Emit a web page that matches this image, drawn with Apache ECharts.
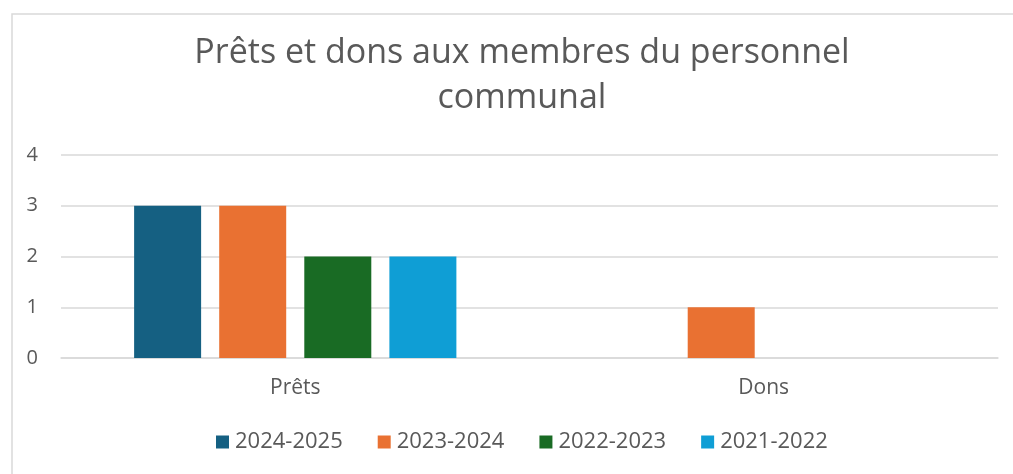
<!DOCTYPE html>
<html>
<head>
<meta charset="utf-8">
<script src="https://cdn.jsdelivr.net/npm/echarts@6/dist/echarts.min.js"></script>
<style>
  html, body { margin: 0; padding: 0; background: #fff; }
  #chart { width: 1013px; height: 474px; }
</style>
</head>
<body>
<div id="chart"></div>
<script>
// Prêts et dons aux membres du personnel communal
const categories = ['Prêts', 'Dons'];
const seriesNames = ['2024-2025', '2023-2024', '2022-2023', '2021-2022'];
const values2024_2025 = [3, 0];
const values2023_2024 = [3, 1];
const values2022_2023 = [2, 0];
const values2021_2022 = [2, 0];
const yTicks = [0, 1, 2, 3, 4];

const seriesValues = [values2024_2025, values2023_2024, values2022_2023, values2021_2022];
const colors = ['#156082', '#E97132', '#196B24', '#0F9ED5'];
const textColor = '#595959';
const fontFamily = '"Open Sans", Roboto, sans-serif';

const chart = echarts.init(document.getElementById('chart'), null, { renderer: 'canvas' });

chart.setOption({
  animation: false,
  color: colors,
  textStyle: { fontFamily: fontFamily },
  graphic: [{
    type: 'rect',
    left: 9.5, top: 11.5,
    shape: { width: 1200, height: 700 },
    style: { fill: 'none', stroke: '#D9D9D9', lineWidth: 1.5 },
    silent: true
  }],
  title: {
    text: 'Prêts et dons aux membres du personnel\ncommunal',
    left: 517,
    top: 26,
    textAlign: 'center',
    textStyle: {
      color: textColor,
      fontSize: 34,
      fontWeight: 'normal',
      lineHeight: 45,
      fontFamily: fontFamily
    }
  },
  legend: {
    data: seriesNames,
    bottom: 16,
    left: 211,
    itemWidth: 13,
    itemHeight: 13,
    itemGap: 35,
    icon: 'rect',
    textStyle: { color: textColor, fontSize: 22, fontFamily: fontFamily, padding: [0, 0, 0, 1] }
  },
  grid: {
    left: 61,
    right: 15,
    top: 155,
    bottom: 116,
    containLabel: false
  },
  xAxis: {
    type: 'category',
    data: categories,
    axisLine: { show: true, lineStyle: { color: '#D9D9D9', width: 1.5 } },
    axisTick: { show: false },
    axisLabel: { color: textColor, fontSize: 21, margin: 20 }
  },
  yAxis: {
    type: 'value',
    min: yTicks[0],
    max: yTicks[yTicks.length - 1],
    interval: 1,
    axisLine: { show: false },
    axisTick: { show: false },
    axisLabel: { color: textColor, fontSize: 20, margin: 23 },
    splitLine: { lineStyle: { color: '#D9D9D9', width: 1.5 } }
  },
  series: seriesNames.map((name, i) => ({
    name: name,
    type: 'bar',
    data: seriesValues[i],
    barWidth: 67,
    barGap: '27%',
    itemStyle: { color: colors[i] }
  }))
});
</script>
</body>
</html>
